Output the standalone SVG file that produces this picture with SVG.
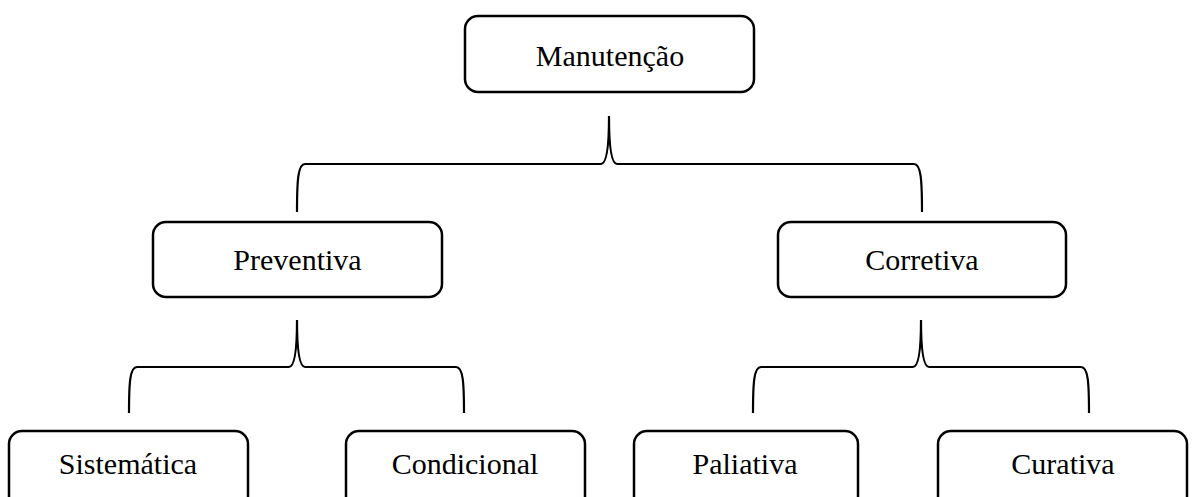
<svg xmlns="http://www.w3.org/2000/svg" width="1197" height="497" viewBox="0 0 1197 497">
<style>
.box{fill:#fff;stroke:#000;stroke-width:2.5}
.lbl{font-family:"Liberation Serif","Times New Roman",serif;font-size:30px;fill:#000;text-anchor:middle}
.brace{fill:none;stroke:#000;stroke-width:2.2}
</style>
<rect width="1197" height="497" fill="#fff"/>
<g id="connectors">
<path class="brace" d="M297,212 C297,180 298,164 305,164 L601,164 C606,164 609,150 609,116 C609,150 612,164 617,164 L914,164 C921,164 922,180 922,212"/>
<path class="brace" d="M129,413 C129,382 130,367 137,367 L289,367 C294,367 297,353 297,320 C297,353 300,367 305,367 L456,367 C463,367 464,382 464,413"/>
<path class="brace" d="M753,413 C753,382 754,367 761,367 L913,367 C918,367 921,353 921,320 C921,353 924,367 929,367 L1081,367 C1088,367 1089,382 1089,413"/>
</g>
<g id="manutencao"><rect class="box" x="465" y="16" width="289" height="76" rx="13"/><text class="lbl" x="610" y="66">Manutenção</text></g>
<g id="preventiva"><rect class="box" x="153" y="222" width="289" height="75" rx="13"/><text class="lbl" x="297.5" y="270">Preventiva</text></g>
<g id="corretiva"><rect class="box" x="778" y="222" width="288" height="75" rx="13"/><text class="lbl" x="922" y="270">Corretiva</text></g>
<g id="sistematica"><rect class="box" x="9" y="431" width="239" height="80" rx="13"/><text class="lbl" x="128" y="474">Sistemática</text></g>
<g id="condicional"><rect class="box" x="346" y="431" width="239" height="80" rx="13"/><text class="lbl" x="465" y="474">Condicional</text></g>
<g id="paliativa"><rect class="box" x="634" y="431" width="224" height="80" rx="13"/><text class="lbl" x="745" y="474">Paliativa</text></g>
<g id="curativa"><rect class="box" x="938" y="431" width="249" height="80" rx="13"/><text class="lbl" x="1063" y="474">Curativa</text></g>
</svg>
